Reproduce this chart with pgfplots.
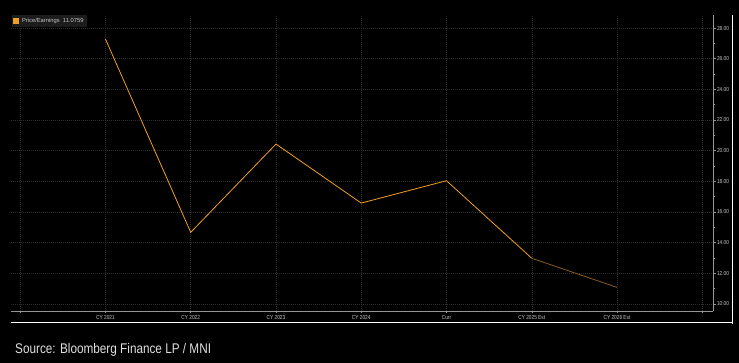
\documentclass[border=0pt]{standalone}
\usepackage{pgfplots}
\pgfplotsset{compat=1.18}
\usepackage{fontspec}
\setmainfont{Liberation Sans}
\newfontfamily\narrowfont[FakeStretch=0.82]{Liberation Sans}
\definecolor{peC}{RGB}{240,160,32}
\definecolor{estC}{RGB}{135,92,38}
\definecolor{gridC}{RGB}{44,44,44}
\definecolor{axC}{RGB}{150,150,150}
\definecolor{lblC}{RGB}{200,200,200}
\definecolor{legbg}{RGB}{28,28,28}
\begin{document}
\begin{tikzpicture}
\fill[black, use as bounding box] (0,0) rectangle (739pt,363pt);
\begin{axis}[
  at={(11pt,52pt)}, anchor=south west,
  width=702pt, height=296pt, scale only axis,
  xmin=-1.108, xmax=7.126, ymin=9.54, ymax=28.85,
  axis x line*=bottom, axis y line*=right,
  axis line style={draw=axC, line width=0.9pt, -},
  xtick={-1,0,...,7},
  xticklabels={{},CY 2021,CY 2022,CY 2023,CY 2024,Curr,CY 2025 Est,CY 2026 Est,{}},
  ytick={10,12,...,28},
  minor ytick={11,13,...,27},
  tick align=outside,
  major tick length=2.5pt, minor tick length=1.5pt,
  tick style={draw=axC, line width=0.5pt},
  xmajorgrids, ymajorgrids,
  major grid style={draw=gridC, dash pattern=on 1pt off 1pt, line width=0.5pt},
  yticklabel style={font=\narrowfont\fontsize{5.8}{6}\selectfont, text=lblC, xshift=-2pt},
  xticklabel style={font=\narrowfont\fontsize{5.8}{6}\selectfont, text=lblC, yshift=2pt},
  /pgf/number format/assume math mode=true,
  /pgf/number format/.cd, fixed, fixed zerofill, precision=2, /pgfplots/.cd,
  legend style={at={(0.0015,0.999)}, anchor=north west, fill=legbg, draw=none,
    font=\fontsize{5.8}{6}\selectfont, text=lblC, inner sep=1pt,
    row sep=0pt, column sep=1pt},
  legend cell align=left,
  legend image code/.code={\fill[peC] (0pt,-2.5pt) rectangle (5pt,2.5pt);},
]
\addplot[color=peC, line width=0.8pt] coordinates {(0,27.28) (1,14.67) (2,20.43) (3,16.58) (4,18.04) (5,12.98)};
\addlegendentry{Price/Earnings\ \ 11.0759}
\addplot[color=estC, line width=0.8pt, forget plot] coordinates {(5,12.98) (6,11.08)};
\end{axis}
\draw[white, line width=0.8pt] (11pt,41pt) -- (732pt,41pt);
\draw[white, line width=0.8pt] (732pt,39pt) -- (732pt,348pt);
\node[anchor=base west, inner sep=0pt, text=white!88!black] at (15pt,9pt)
  {\scalebox{0.84}[1]{\fontsize{14}{16}\selectfont Source: Bloomberg Finance LP / MNI}};
\end{tikzpicture}
\end{document}
